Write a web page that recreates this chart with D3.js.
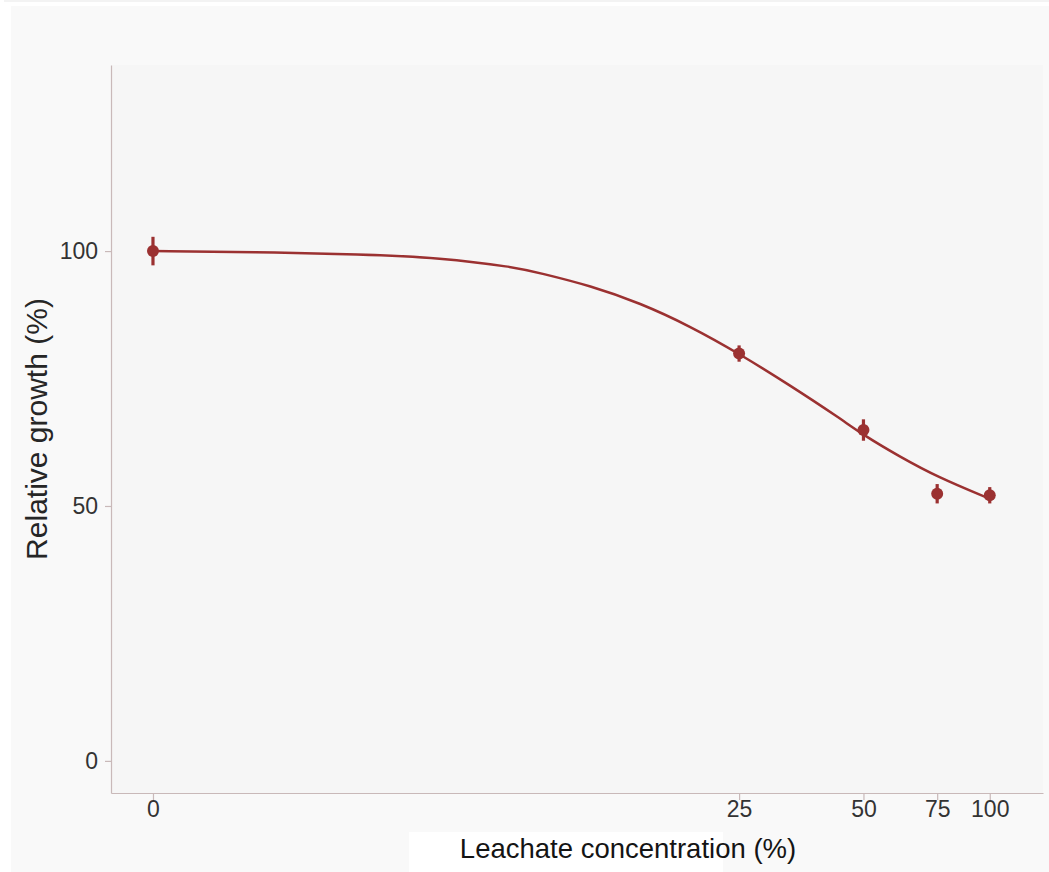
<!DOCTYPE html>
<html>
<head>
<meta charset="utf-8">
<script src="https://cdn.jsdelivr.net/npm/d3@7"></script>
<style>
    html, body { margin: 0; padding: 0; background: #ffffff; }
    svg { display: block; font-family: "Liberation Sans", Arial, sans-serif; }
</style>
</head>
<body>
<svg id="chart_growth"></svg>
<script>
// Observed means and error bars
const concentrations = [0, 25, 50, 75, 100];
const growthMean = [100, 79.9, 64.9, 52.4, 52.1];
const growthErr = [2.8, 1.6, 2.1, 1.9, 1.6];

// Fitted dose-response curve
const fitConc = [0, 0.8, 2.3, 4.1, 6.6, 7.8, 10.6, 14.2, 18.9, 25, 33.2, 43.9, 50, 61, 75, 100];
const fitGrowth = [100, 99.8, 99.4, 98.7, 96.9, 95.7, 93.2, 89.8, 85.3, 79.9, 73.7, 67.2, 63.9, 59.7, 55.7, 51.4];

// Tick labels
const xTicks = [0, 25, 50, 75, 100];
const yTicks = [0, 50, 100];

const width = 1049;
const height = 872;
const margin = { top: 65, right: 6, bottom: 79, left: 111 };
const lineColour = "#9b3131";
const axisColour = "#c9b9b9";

const svg = d3.select("#chart_growth")
    .attr("width", width)
    .attr("height", height);

// Page and panel backgrounds
svg.append("rect").attr("x", 4).attr("y", 0).attr("width", width - 4).attr("height", 2).attr("fill", "#f3f3f3");
svg.append("rect").attr("x", 11).attr("y", 6).attr("width", width - 11).attr("height", height - 6).attr("fill", "#f9f9f9");
svg.append("rect")
    .attr("x", margin.left).attr("y", margin.top)
    .attr("width", width - margin.left - margin.right)
    .attr("height", height - margin.top - margin.bottom)
    .attr("fill", "#f6f6f6");

// Scales (x is a symlog so the low doses are spread out)
const xScale = d3.scaleSymlog()
    .constant(1.1)
    .domain([-0.28, 133.7])
    .range([margin.left, width - margin.right]);

const yScale = d3.scaleLinear()
    .domain([-6.3, 136.5])
    .range([height - margin.bottom, margin.top]);

// Axes
const xAxis = d3.axisBottom(xScale)
    .tickValues(xTicks)
    .tickFormat(d3.format("d"))
    .tickSizeInner(7)
    .tickSizeOuter(0)
    .tickPadding(1);

const gx = svg.append("g")
    .attr("transform", `translate(0, ${height - margin.bottom})`)
    .call(xAxis);

const yAxis = d3.axisLeft(yScale)
    .tickValues(yTicks)
    .tickFormat(d3.format("d"))
    .tickSizeInner(6)
    .tickSizeOuter(0)
    .tickPadding(7);

const gy = svg.append("g")
    .attr("transform", `translate(${margin.left}, 0)`)
    .call(yAxis);

[gx, gy].forEach(g => {
    g.select(".domain").attr("stroke", axisColour).attr("stroke-width", 1.2);
    g.selectAll(".tick line").attr("stroke", axisColour).attr("stroke-width", 1.2);
    g.selectAll(".tick text")
        .attr("fill", "#333333")
        .style("font-size", "23px")
        .style("font-family", "\"Liberation Sans\", Arial, sans-serif");
});

// Axis titles
svg.append("rect")
    .attr("x", 409).attr("y", 832)
    .attr("width", 314).attr("height", 40)
    .attr("fill", "#ffffff");

svg.append("text")
    .attr("x", 628)
    .attr("y", 858)
    .attr("text-anchor", "middle")
    .attr("fill", "#141414")
    .style("font-size", "27.5px")
    .text("Leachate concentration (%)");

svg.append("text")
    .attr("transform", `translate(47, 429) rotate(-90)`)
    .attr("text-anchor", "middle")
    .attr("fill", "#262626")
    .style("font-size", "30px")
    .text("Relative growth (%)");

// Fitted curve
const fitData = fitConc.map((c, i) => [c, fitGrowth[i]]);
const lineGenerator = d3.line()
    .x(d => xScale(d[0]))
    .y(d => yScale(d[1]))
    .curve(d3.curveBasis);

svg.append("path")
    .datum(fitData)
    .attr("d", lineGenerator)
    .attr("fill", "none")
    .attr("stroke", lineColour)
    .attr("stroke-width", 2.5);

// Error bars and points
const points = concentrations.map((c, i) => ({ c: c, m: growthMean[i], e: growthErr[i] }));

svg.selectAll(".errbar")
    .data(points)
    .join("line")
    .attr("class", "errbar")
    .attr("x1", d => xScale(d.c))
    .attr("x2", d => xScale(d.c))
    .attr("y1", d => yScale(d.m - d.e))
    .attr("y2", d => yScale(d.m + d.e))
    .attr("stroke", lineColour)
    .attr("stroke-width", 3.2);

svg.selectAll(".dot")
    .data(points)
    .join("circle")
    .attr("class", "dot")
    .attr("cx", d => xScale(d.c))
    .attr("cy", d => yScale(d.m))
    .attr("r", 6)
    .attr("fill", lineColour);
</script>
</body>
</html>
